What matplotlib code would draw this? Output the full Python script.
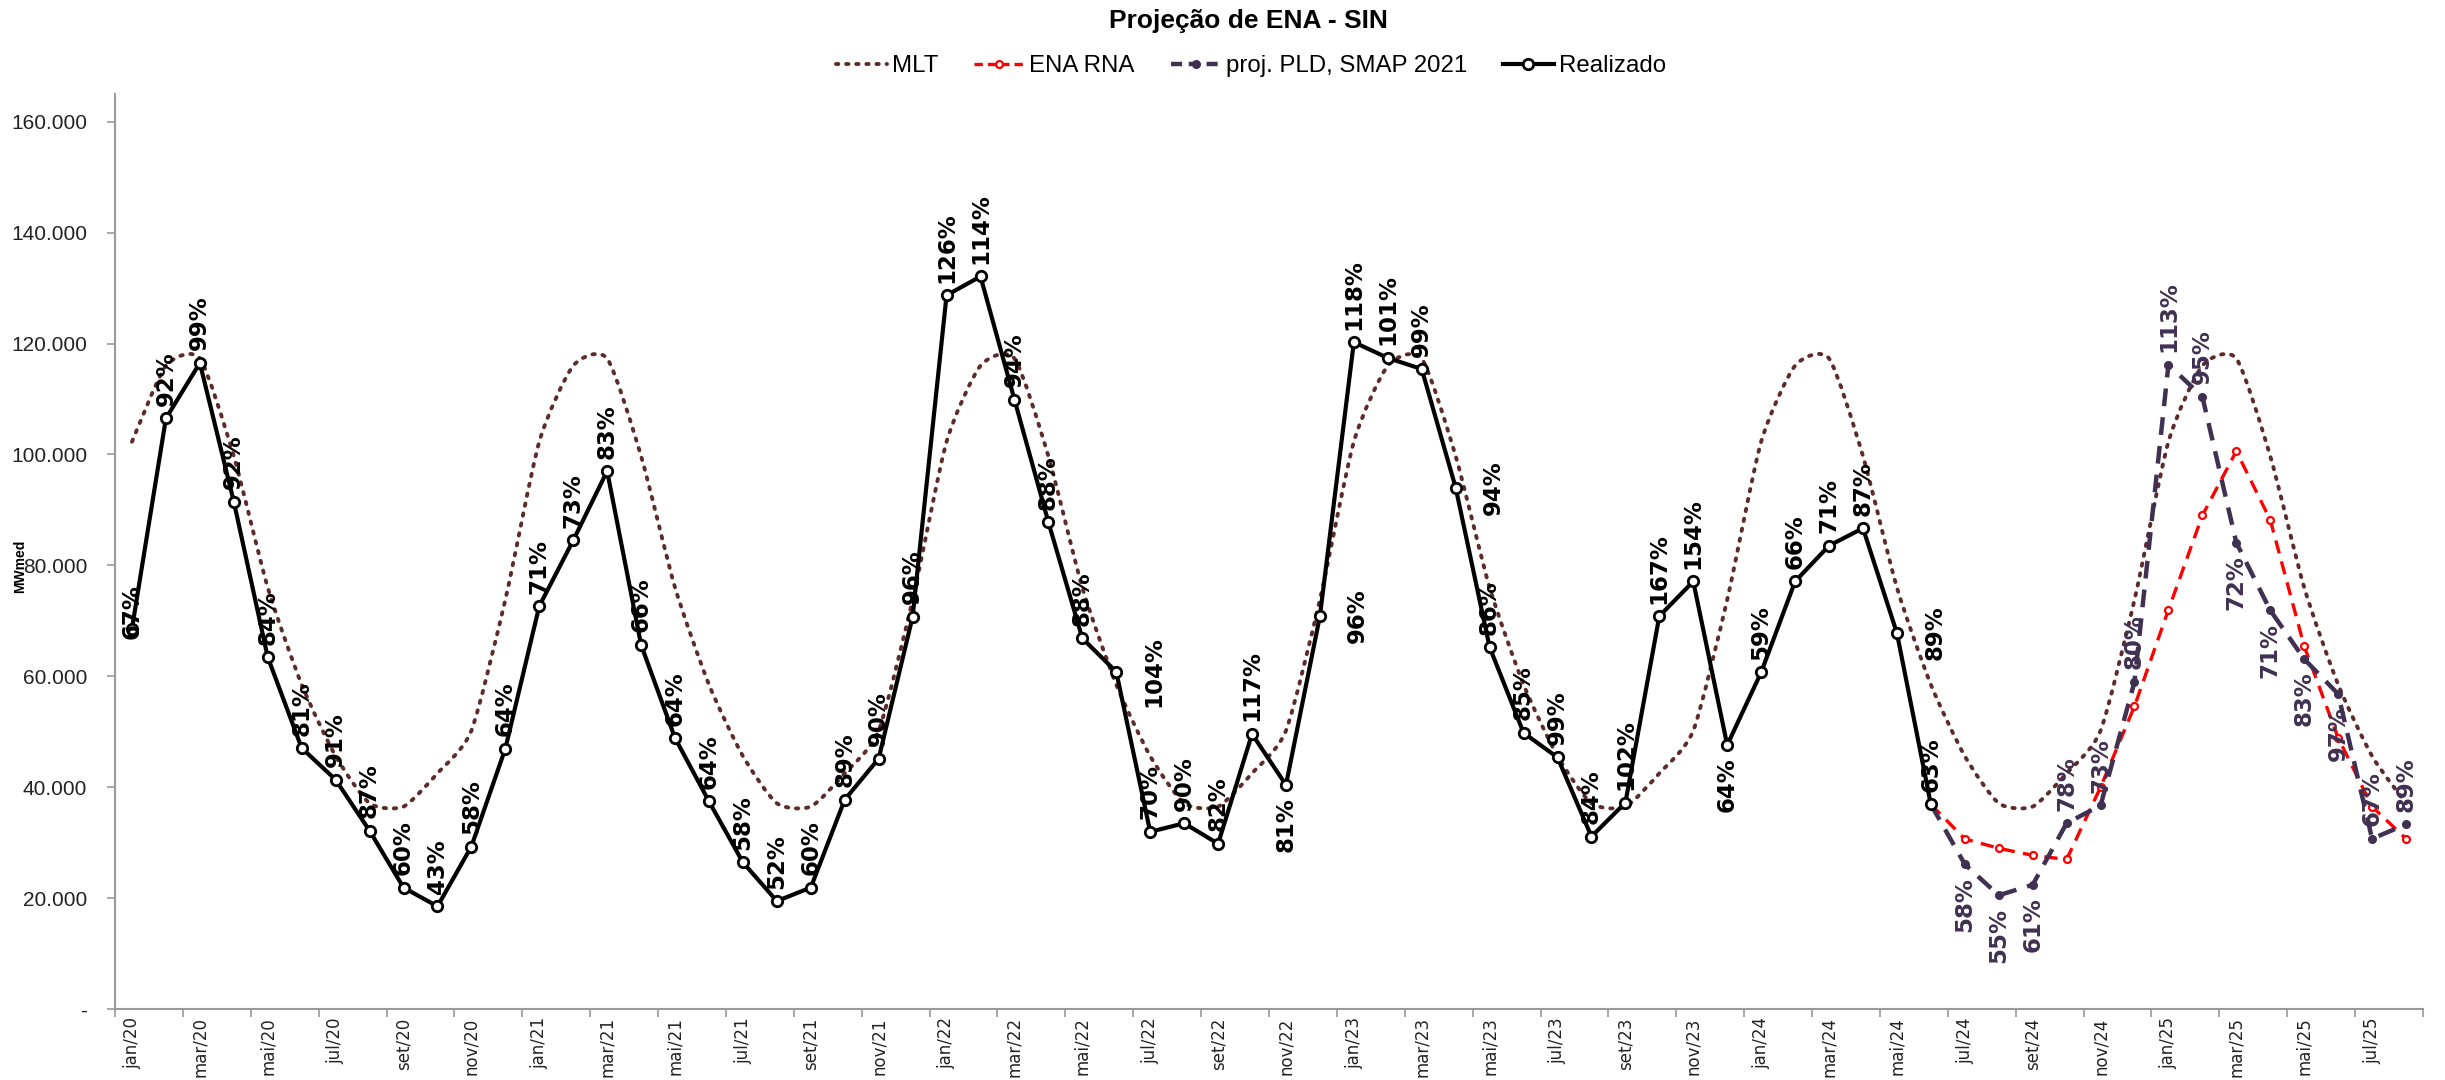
import numpy as np
import matplotlib
matplotlib.use("Agg")
import matplotlib.pyplot as plt
from matplotlib import font_manager
from matplotlib.path import Path
from matplotlib.patches import PathPatch
from matplotlib.lines import Line2D

# Projecao de ENA - SIN: MLT, realizado e duas projecoes (jan/20 a ago/25)
meses_abrev = ["jan", "fev", "mar", "abr", "mai", "jun", "jul", "ago", "set", "out", "nov", "dez"]
anos = ["20", "21", "22", "23", "24", "25"]
meses = [f"{m}/{a}" for a in anos for m in meses_abrev][:68]

mlt = [102300, 116000, 117300, 99700, 76000, 58500, 45600, 37100, 36500, 42500, 50200, 73800,
       102300, 116000, 117300, 99700, 76000, 58500, 45600, 37100, 36500, 42500, 50200, 73800,
       102300, 116000, 117300, 99700, 76000, 58500, 45600, 37100, 36500, 42500, 50200, 73800,
       102300, 116000, 117300, 99700, 76000, 58500, 45600, 37100, 36500, 42500, 50200, 73800,
       102300, 116000, 117300, 99700, 76000, 58500, 45600, 37100, 36500, 42500, 50200, 73800,
       102300, 116000, 117300, 99700, 76000, 58500, 45600, 37100]

realizado = [68600, 106500, 116500, 91500, 63450, 47060, 41350, 32150, 21900, 18500, 29300, 46950,
             72650, 84500, 97000, 65670, 48860, 37440, 26440, 19460, 21900, 37750, 45150, 70750,
             128700, 132100, 109900, 87800, 66850, 60800, 31950, 33500, 29800, 49600, 40400, 70850,
             120250, 117400, 115400, 94000, 65250, 49800, 45370, 31100, 37200, 70850, 77100, 47600,
             60700, 77100, 83550, 86700, 67800, 36900]
realizado_pct = ["67%", "92%", "99%", "92%", "84%", "81%", "91%", "87%", "60%", "43%", "58%", "64%",
                 "71%", "73%", "83%", "66%", "64%", "64%", "58%", "52%", "60%", "89%", "90%", "96%",
                 "126%", "114%", "94%", "88%", "88%", "104%", "70%", "90%", "82%", "117%", "81%", "96%",
                 "118%", "101%", "99%", "94%", "86%", "85%", "99%", "84%", "102%", "167%", "154%", "64%",
                 "59%", "66%", "71%", "87%", "89%", "63%"]
realizado_pos = ["c", "a", "a", "a", "a", "a", "a", "a", "a", "a", "a", "a",
                 "a", "a", "a", "a", "a", "a", "a", "a", "a", "a", "a", "a",
                 "a", "a", "a", "a", "a", "r", "a", "a", "a", "a", "b", "r",
                 "a", "a", "a", "r", "a", "a", "a", "a", "a", "a", "a", "b",
                 "a", "a", "a", "a", "r", "a"]

# projecoes comecam em jun/24 (indice 53)
inicio_proj = 53
ena_rna = [36900, 30670, 28980, 27710, 26970, 40000, 54600, 72000, 89000, 100600, 88200, 65400,
           48900, 36500, 30700]
proj_pld = [36900, 26100, 20500, 22400, 33500, 36700, 59000, 116200, 110400, 84100, 71900, 63100,
            56800, 30700, 33300]
proj_pld_pct = [None, "58%", "55%", "61%", "78%", "73%", "80%", "113%", "95%", "72%", "71%", "83%",
                "97%", "67%", "89%"]
proj_pld_pos = [None, "b", "b", "b", "a", "a", "a", "a", "a", "b", "b", "b", "b", "a", "a"]

cor_mlt = "#5E2A2A"
cor_rna = "#FF0000"
cor_pld = "#403152"
cor_eixo = "#9A9A9A"


def tem_fonte(nome):
    return any(f.name == nome for f in font_manager.fontManager.ttflist)


narrow = "Liberation Sans Narrow" if tem_fonte("Liberation Sans Narrow") else "Liberation Sans"

fig = plt.figure(figsize=(24.45, 10.8), dpi=100)
ax = fig.add_axes([115 / 2445, 1 - 1009 / 1080, (2423 - 115) / 2445, (1009 - 94) / 1080])

x = np.arange(len(meses))

# MLT como curva suavizada (Bezier pelos pontos mensais, como no Excel)
tensao = 0.11
pts = np.column_stack([x, mlt]).astype(float)
verts = [pts[0]]
codes = [Path.MOVETO]
n = len(pts)
for i in range(n - 1):
    p0 = pts[max(i - 1, 0)]
    p1 = pts[i]
    p2 = pts[i + 1]
    p3 = pts[min(i + 2, n - 1)]
    verts += [p1 + (p2 - p0) * tensao, p2 - (p3 - p1) * tensao, p2]
    codes += [Path.CURVE4] * 3
ax.add_patch(PathPatch(Path(verts, codes), fill=False, edgecolor=cor_mlt, lw=2.8,
                       linestyle=(0, (0.6, 2.0)), capstyle="round", zorder=2))

xp = x[inicio_proj:inicio_proj + len(ena_rna)]
ax.plot(xp, ena_rna, color=cor_rna, lw=2.4, linestyle=(0, (4, 2.5)), marker="o", markersize=5,
        markerfacecolor="white", markeredgecolor=cor_rna, markeredgewidth=1.6, zorder=3)
ax.plot(xp, proj_pld, color=cor_pld, lw=3.2, linestyle=(0, (4, 2.5)), marker="o", markersize=5.5,
        markerfacecolor=cor_pld, markeredgecolor=cor_pld, zorder=4)
ax.plot(x[:len(realizado)], realizado, color="black", lw=3.0, marker="o", markersize=7.5,
        markerfacecolor="white", markeredgecolor="black", markeredgewidth=2.0, zorder=5)


# rotulos de percentual da MLT
def rotulo(xi, yi, txt, pos, cor):
    if pos == "a":
        off, ha, va = (0, 9), "center", "bottom"
    elif pos == "b":
        off, ha, va = (0, -9), "center", "top"
    elif pos == "r":
        off, ha, va = (19, 0), "left", "center"
    else:
        off, ha, va = (0, 12), "center", "center"
    ax.annotate(txt, (xi, yi), xytext=off, textcoords="offset points", rotation=90,
                ha=ha, va=va, fontsize=16.5, fontweight="bold", color=cor,
                family="DejaVu Sans", zorder=6)


for i, (v, t, p) in enumerate(zip(realizado, realizado_pct, realizado_pos)):
    rotulo(i, v, t, p, "black")
for xi, v, t, p in zip(xp, proj_pld, proj_pld_pct, proj_pld_pos):
    if t:
        rotulo(xi, v, t, p, cor_pld)

ax.set_xlim(-0.5, len(meses) - 0.5)
ax.set_ylim(0, 165000)

ax.set_xticks(x[::2])
ax.set_xticklabels(meses[::2], rotation=90, fontsize=12, family="DejaVu Sans", color="#222222")
ax.set_xticks(np.arange(-0.5, len(meses), 2), minor=True)
ax.tick_params(axis="x", which="major", length=0, pad=6)
ax.tick_params(axis="x", which="minor", length=6, width=1.2, color=cor_eixo, direction="out")

yt = np.arange(0, 160001, 20000)
ax.set_yticks(yt)
ax.set_yticklabels(["-" if v == 0 else f"{v:,.0f}".replace(",", ".") for v in yt],
                   fontsize=15, family=narrow, color="#222222")
ax.tick_params(axis="y", length=6, width=1.2, color=cor_eixo, direction="out", pad=14)

for s in ["top", "right"]:
    ax.spines[s].set_visible(False)
for s in ["left", "bottom"]:
    ax.spines[s].set_color(cor_eixo)
    ax.spines[s].set_linewidth(1.5)

fig.text(20 / 2445, 1 - 566 / 1080, "MWmed", rotation=90, ha="center", va="center",
         fontsize=10, fontweight="bold", family="Liberation Sans")

fig.text(1248 / 2445, 1 - 21 / 1080, "Projeção de ENA - SIN", ha="center", va="center",
         fontsize=19, fontweight="bold", family=narrow)

handles = [
    Line2D([], [], color=cor_mlt, lw=2.8, linestyle=(0, (0.6, 2.0)), dash_capstyle="round"),
    Line2D([], [], color=cor_rna, lw=2.4, linestyle=(0, (2.5, 1.5)), marker="o", markersize=5,
           markerfacecolor="white", markeredgecolor=cor_rna, markeredgewidth=1.6),
    Line2D([], [], color=cor_pld, lw=3.2, linestyle=(0, (2.5, 1.5)), marker="o", markersize=5.5,
           markerfacecolor=cor_pld),
    Line2D([], [], color="black", lw=3.0, marker="o", markersize=7.5, markerfacecolor="white",
           markeredgewidth=2.0),
]
fig.legend(handles, ["MLT", "ENA RNA", "proj. PLD, SMAP 2021", "Realizado"], ncol=4,
           loc="center", bbox_to_anchor=(1251 / 2445, 1 - 66 / 1080), frameon=False,
           prop={"family": narrow, "size": 17.3}, handlelength=2.1, handletextpad=0.2,
           columnspacing=1.5)

fig.savefig("out.png", dpi=100)
